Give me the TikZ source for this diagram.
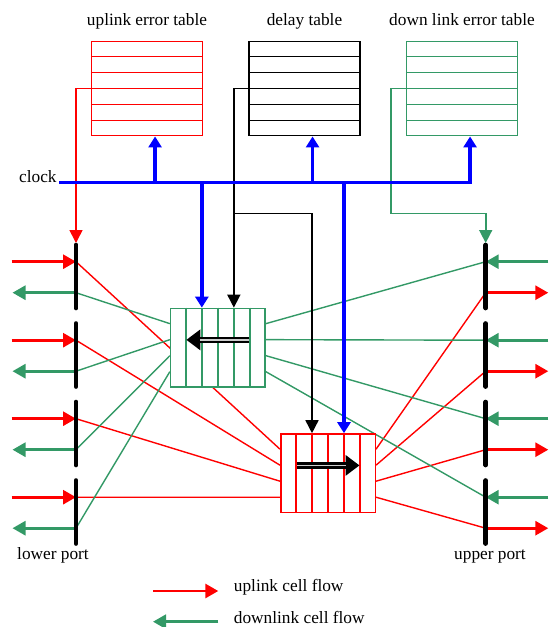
\documentclass[tikz,border=0pt]{standalone}
\usepackage{fontspec}
\setmainfont{Liberation Serif}
\usetikzlibrary{arrows.meta,positioning,calc,backgrounds}
\definecolor{dlgreen}{RGB}{51,153,102}
\tikzset{tbl/.style={draw,line width=1.5pt,minimum width=110.6pt,minimum height=94.4pt,inner sep=0pt},buf/.style={draw,fill=white,line width=1.5pt,minimum width=94.5pt,minimum height=78.5pt,inner sep=0pt},headline/.style={inner sep=2pt,text depth=4pt},portbar/.style={line width=4.7pt,line cap=round},flow/.style={line width=2.8pt,-{Triangle[length=13pt,width=14pt]}},conn/.style={line width=1.4pt},feed/.style={line width=1.6pt,-{Triangle[length=13pt,width=13pt]}},clk/.style={blue,line width=3.3pt},clkarrow/.style={clk,-{Triangle[length=11pt,width=13pt]}},bigarrow/.style={line width=6.5pt,-{Triangle[length=14pt,width=20pt]}},bigcore/.style={line width=1.6pt,gray!40,shorten >=14pt}}

\begin{document}
\begin{tikzpicture}[x=1pt,y=-1pt,font=\fontsize{17.3}{20}\selectfont]
\useasboundingbox (0,0) rectangle (552,627);
\node[tbl,draw=red] (uet) at (147,88.5) {};
\node[tbl,draw=black] (dly) at (304.5,88.5) {};
\node[tbl,draw=dlgreen] (dlt) at (462,88.5) {};
\node[headline,above=8.6pt of uet] (uetlbl) {uplink error table};
\node[headline,above=8.6pt of dly] (dlylbl) {delay table};
\node[headline,above=8.6pt of dlt] (dltlbl) {down link error table};
\foreach \t/\c in {uet/red,dly/black,dlt/dlgreen} \foreach \k in {1,...,5} \draw[color=\c,line width=1.5pt] ($(\t.north west)!\k/6!(\t.south west)$) -- ($(\t.north east)!\k/6!(\t.south east)$);
\node[buf,draw=dlgreen] (dnbuf) at (217.85,347.65) {};
\node[buf,draw=red] (upbuf) at (328,473.2) {};
\foreach \k in {1,...,5} {\draw[dlgreen,line width=1.4pt] ($(dnbuf.north west)!\k/6!(dnbuf.north east)$) -- ($(dnbuf.south west)!\k/6!(dnbuf.south east)$); \draw[red,line width=1.4pt] ($(upbuf.north west)!\k/6!(upbuf.north east)$) -- ($(upbuf.south west)!\k/6!(upbuf.south east)$);}
\foreach \i in {0,...,3} {\coordinate (lu\i) at (76,261.7+78.5*\i); \coordinate (ld\i) at (76,292.7+78.5*\i); \coordinate (ru\i) at (485.7,292.7+78.5*\i); \coordinate (rd\i) at (485.7,261.7+78.5*\i); \coordinate (luo\i) at (11.7,261.7+78.5*\i); \coordinate (ldo\i) at (12.5,292.7+78.5*\i); \coordinate (ruo\i) at (548.3,292.7+78.5*\i); \coordinate (rdo\i) at (548.3,261.7+78.5*\i);}
\begin{scope}[on background layer]
\foreach \i/\f in {0/0.2,1/0.4,2/0.6,3/0.8} {\draw[conn,red] (lu\i) -- ($(upbuf.north west)!\f!(upbuf.south west)$); \draw[conn,red] ($(upbuf.north east)!\f!(upbuf.south east)$) -- (ru\i); \draw[conn,dlgreen] (rd\i) -- ($(dnbuf.north east)!\f!(dnbuf.south east)$); \draw[conn,dlgreen] ($(dnbuf.north west)!\f!(dnbuf.south west)$) -- (ld\i);}
\end{scope}
\foreach \i in {0,...,3} {\draw[flow,red] (luo\i) -- (lu\i); \draw[flow,dlgreen] (ld\i) -- (ldo\i); \draw[flow,dlgreen] (rdo\i) -- (rd\i); \draw[flow,red] (ru\i) -- (ruo\i);}
\foreach \i in {0,...,3} \draw[portbar] (76,245+78.5*\i) -- (76,308+78.5*\i) (485.7,245+78.5*\i) -- (485.7,308+78.5*\i);
\coordinate (lptop) at (76,243); \coordinate (uptop) at (485.7,243); \coordinate (split) at (0,213.3); \coordinate (gturn) at (390.7,213.3);
\coordinate (dnblk) at ($(dnbuf.north west)!4/6!(dnbuf.north east)$); \coordinate (upblk) at ($(upbuf.north west)!2/6!(upbuf.north east)$);
\coordinate (dnclk) at ($(dnbuf.north west)!2/6!(dnbuf.north east)$); \coordinate (upclk) at ($(upbuf.north west)!4/6!(upbuf.north east)$);
\draw[feed,red] (uet.west) -| (lptop);
\draw[feed] (dly.west) -| (dnblk); \draw[feed] (dnblk |- split) -| (upblk);
\draw[feed,dlgreen] (dlt.west) -| (gturn) -| (uptop);
\node[anchor=base east,inner sep=2.5pt] (clock) at (59.3,182.7) {clock};
\coordinate (uetin) at ($(uet.south west)!0.572!(uet.south east)$); \coordinate (dlyin) at ($(dly.south west)!0.572!(dly.south east)$); \coordinate (dltin) at ($(dlt.south west)!0.572!(dlt.south east)$);
\draw[clkarrow] (clock.base east) -| (dltin);
\draw[clkarrow] (uetin |- clock.base) -- (uetin); \draw[clkarrow] (dlyin |- clock.base) -- (dlyin);
\draw[clkarrow] (dnclk |- clock.base) -- (dnclk); \draw[clkarrow] (upclk |- clock.base) -- (upclk);
\coordinate (dntail) at ($(dnbuf.center)+(31.5,-7.8)$); \coordinate (dnhead) at ($(dnbuf.center)+(-31.5,-7.8)$);
\coordinate (uptail) at ($(upbuf.center)+(-31.5,-7.8)$); \coordinate (uphead) at ($(upbuf.center)+(31.5,-7.8)$);
\draw[bigarrow] (dntail) -- (dnhead); \draw[bigcore] (dntail) -- (dnhead);
\draw[bigarrow] (uptail) -- (uphead); \draw[bigcore] (uptail) -- (uphead);
\node[anchor=base] (lplbl) at (53,559.5) {lower port};
\node[anchor=base] (uplbl) at (490,559.5) {upper port};
\coordinate (legup) at (153,591); \coordinate (legupend) at (218.3,591); \coordinate (legdn) at (153,621.7); \coordinate (legdnend) at (218.3,621.7);
\draw[flow,red] (legup) -- (legupend); \draw[flow,dlgreen] (legdnend) -- (legdn);
\node[anchor=base west,inner sep=0pt] (upflow) at (233.7,591.7) {uplink cell flow};
\node[anchor=base west,inner sep=0pt] (dnflow) at (233.7,623) {downlink cell flow};
\end{tikzpicture}
\end{document}
